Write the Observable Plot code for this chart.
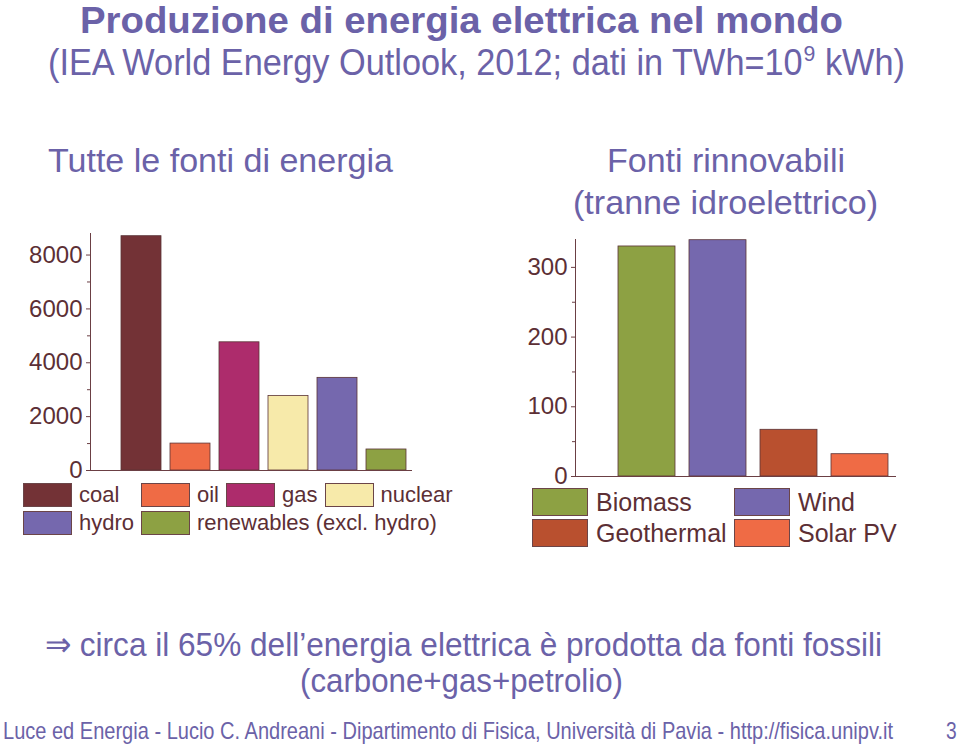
<!DOCTYPE html>
<html><head><meta charset="utf-8">
<script src="https://cdn.jsdelivr.net/npm/d3@7"></script>
<script src="https://cdn.jsdelivr.net/npm/@observablehq/plot@0.6"></script>
<style>
body{margin:0;width:960px;height:746px;position:relative;background:#fff;font-family:"Liberation Sans",Arial,Helvetica,sans-serif;overflow:hidden}
.t{position:absolute;white-space:nowrap;line-height:1;color:#6b62a8;transform-origin:0 0}
.t sup{font-size:62%;vertical-align:0;position:relative;top:-0.62em;margin-left:1px}
.chart{position:absolute}
.leg{position:absolute;color:#5c2f35;line-height:1}
.leg .item{display:flex;align-items:center}
.sw{box-sizing:border-box;border:1px solid #6b4548;flex:none}
#legL{left:23px;top:483px;width:455px;display:flex;flex-wrap:wrap;row-gap:4px;column-gap:7px;font-size:22px}
#legL .sw{width:49px;height:24px;margin-right:7px}
#legR{left:532px;top:488px;display:grid;grid-template-columns:202px auto;row-gap:3px;font-size:25px}
#legR .sw{width:56px;height:28px;margin-right:8px}
</style></head><body>
<div class="t fit" data-w="763" style="left:80px;top:3px;font-size:36px;font-weight:bold">Produzione di energia elettrica nel mondo</div>
<div class="t fit" data-w="857" style="left:48px;top:44px;font-size:37px">(IEA World Energy Outlook, 2012; dati in TWh=10<sup>9</sup> kWh)</div>
<div class="t fit" data-w="345" style="left:48px;top:143px;font-size:34px">Tutte le fonti di energia</div>
<div class="t fit" data-w="238" style="left:607px;top:143px;font-size:34px">Fonti rinnovabili</div>
<div class="t fit" data-w="305" style="left:573px;top:185px;font-size:34px">(tranne idroelettrico)</div>
<div id="left" class="chart" style="left:0;top:220px"></div>
<div id="right" class="chart" style="left:480px;top:225px"></div>
<div id="legL" class="leg"></div>
<div id="legR" class="leg"></div>
<div class="t fit" data-w="837" style="left:45px;top:627px;font-size:34px">⇒ circa il 65% dell’energia elettrica è prodotta da fonti fossili</div>
<div class="t fit" data-w="323" style="left:300px;top:663px;font-size:34px">(carbone+gas+petrolio)</div>
<div class="t fit" data-w="890" style="left:3px;top:719px;font-size:24px">Luce ed Energia - Lucio C. Andreani - Dipartimento di Fisica, Università di Pavia - http://fisica.unipv.it</div>
<div class="t" style="left:946px;top:719px;font-size:24px;transform:scaleX(0.8)">3</div>
<script>
// ---- data ----
const sources = ["coal", "oil", "gas", "nuclear", "hydro", "renewables (excl. hydro)"];
const production = [8700, 1000, 4760, 2770, 3440, 780];
const sourceColors = ["#733236", "#ef6b45", "#ad2c6c", "#f7eaaa", "#7568ae", "#8da143"];
const leftTicks = [0, 2000, 4000, 6000, 8000];
const leftMinorTicks = [1000, 3000, 5000, 7000];

const renewables = ["Biomass", "Wind", "Geothermal", "Solar PV"];
const renewableProduction = [330, 339, 67, 32];
const renewableColors = ["#8da143", "#7568ae", "#b9502f", "#ef6b45"];
const rightTicks = [0, 100, 200, 300];
const rightMinorTicks = [50, 150, 250];

// ---- charts ----
const axisColor = "#6b3f44";
const textColor = "#5c2f35";
const leftData = sources.map((s, i) => ({source: s, value: production[i]}));
const rightData = renewables.map((s, i) => ({source: s, value: renewableProduction[i]}));

const leftPlot = Plot.plot({
  width: 440, height: 260, marginLeft: 90, marginRight: 28, marginTop: 13, marginBottom: 10,
  style: {fontFamily: "Liberation Sans, Arial, sans-serif", color: textColor, background: "transparent", overflow: "visible"},
  x: {domain: sources, range: [115.3, 411.2], paddingInner: 0.19, paddingOuter: 0.095, axis: null},
  y: {domain: [0, 8800], axis: null},
  color: {domain: sources, range: sourceColors},
  marks: [
    Plot.barY(leftData, {x: "source", y: "value", fill: "source", stroke: "#5a3336", strokeWidth: 0.8}),
    Plot.axisY({ticks: leftTicks, tickFormat: "d", tickSize: 4, tickPadding: 4, label: null, fontSize: 24, stroke: axisColor}),
    Plot.axisY({ticks: leftMinorTicks, tickSize: 3, text: null, label: null, stroke: axisColor}),
    Plot.frame({anchor: "left", stroke: axisColor}),
    Plot.ruleY([0], {stroke: axisColor})
  ]
});
document.getElementById("left").append(leftPlot);

const rightPlot = Plot.plot({
  width: 440, height: 260, marginLeft: 95, marginRight: 24, marginTop: 14, marginBottom: 9,
  style: {fontFamily: "Liberation Sans, Arial, sans-serif", color: textColor, background: "transparent", overflow: "visible"},
  x: {domain: renewables, range: [130.6, 415.4], paddingInner: 0.2, paddingOuter: 0.1, axis: null},
  y: {domain: [0, 340], axis: null},
  color: {domain: renewables, range: renewableColors},
  marks: [
    Plot.barY(rightData, {x: "source", y: "value", fill: "source", stroke: "#5a3336", strokeWidth: 0.8}),
    Plot.axisY({ticks: rightTicks, tickFormat: "d", tickSize: 4, tickPadding: 4, label: null, fontSize: 24, stroke: axisColor}),
    Plot.axisY({ticks: rightMinorTicks, tickSize: 3, text: null, label: null, stroke: axisColor}),
    Plot.frame({anchor: "left", stroke: axisColor}),
    Plot.ruleY([0], {stroke: axisColor})
  ]
});
document.getElementById("right").append(rightPlot);

// ---- legends ----
function legend(el, names, colors) {
  const items = d3.select(el).selectAll("div.item").data(names).join("div").attr("class", "item");
  items.append("div").attr("class", "sw").style("background", (d, i) => colors[i]);
  items.append("span").text(d => d);
  return items;
}
const li = legend("#legL", sources, sourceColors);
li.filter((d, i) => i === 0).style("min-width", "111px");
legend("#legR", renewables, renewableColors);

// ---- fit text widths ----
document.querySelectorAll(".fit").forEach(el => {
  const w = el.getBoundingClientRect().width;
  const target = +el.dataset.w;
  el.style.transform = `scaleX(${target / w})`;
});
</script>
</body></html>
